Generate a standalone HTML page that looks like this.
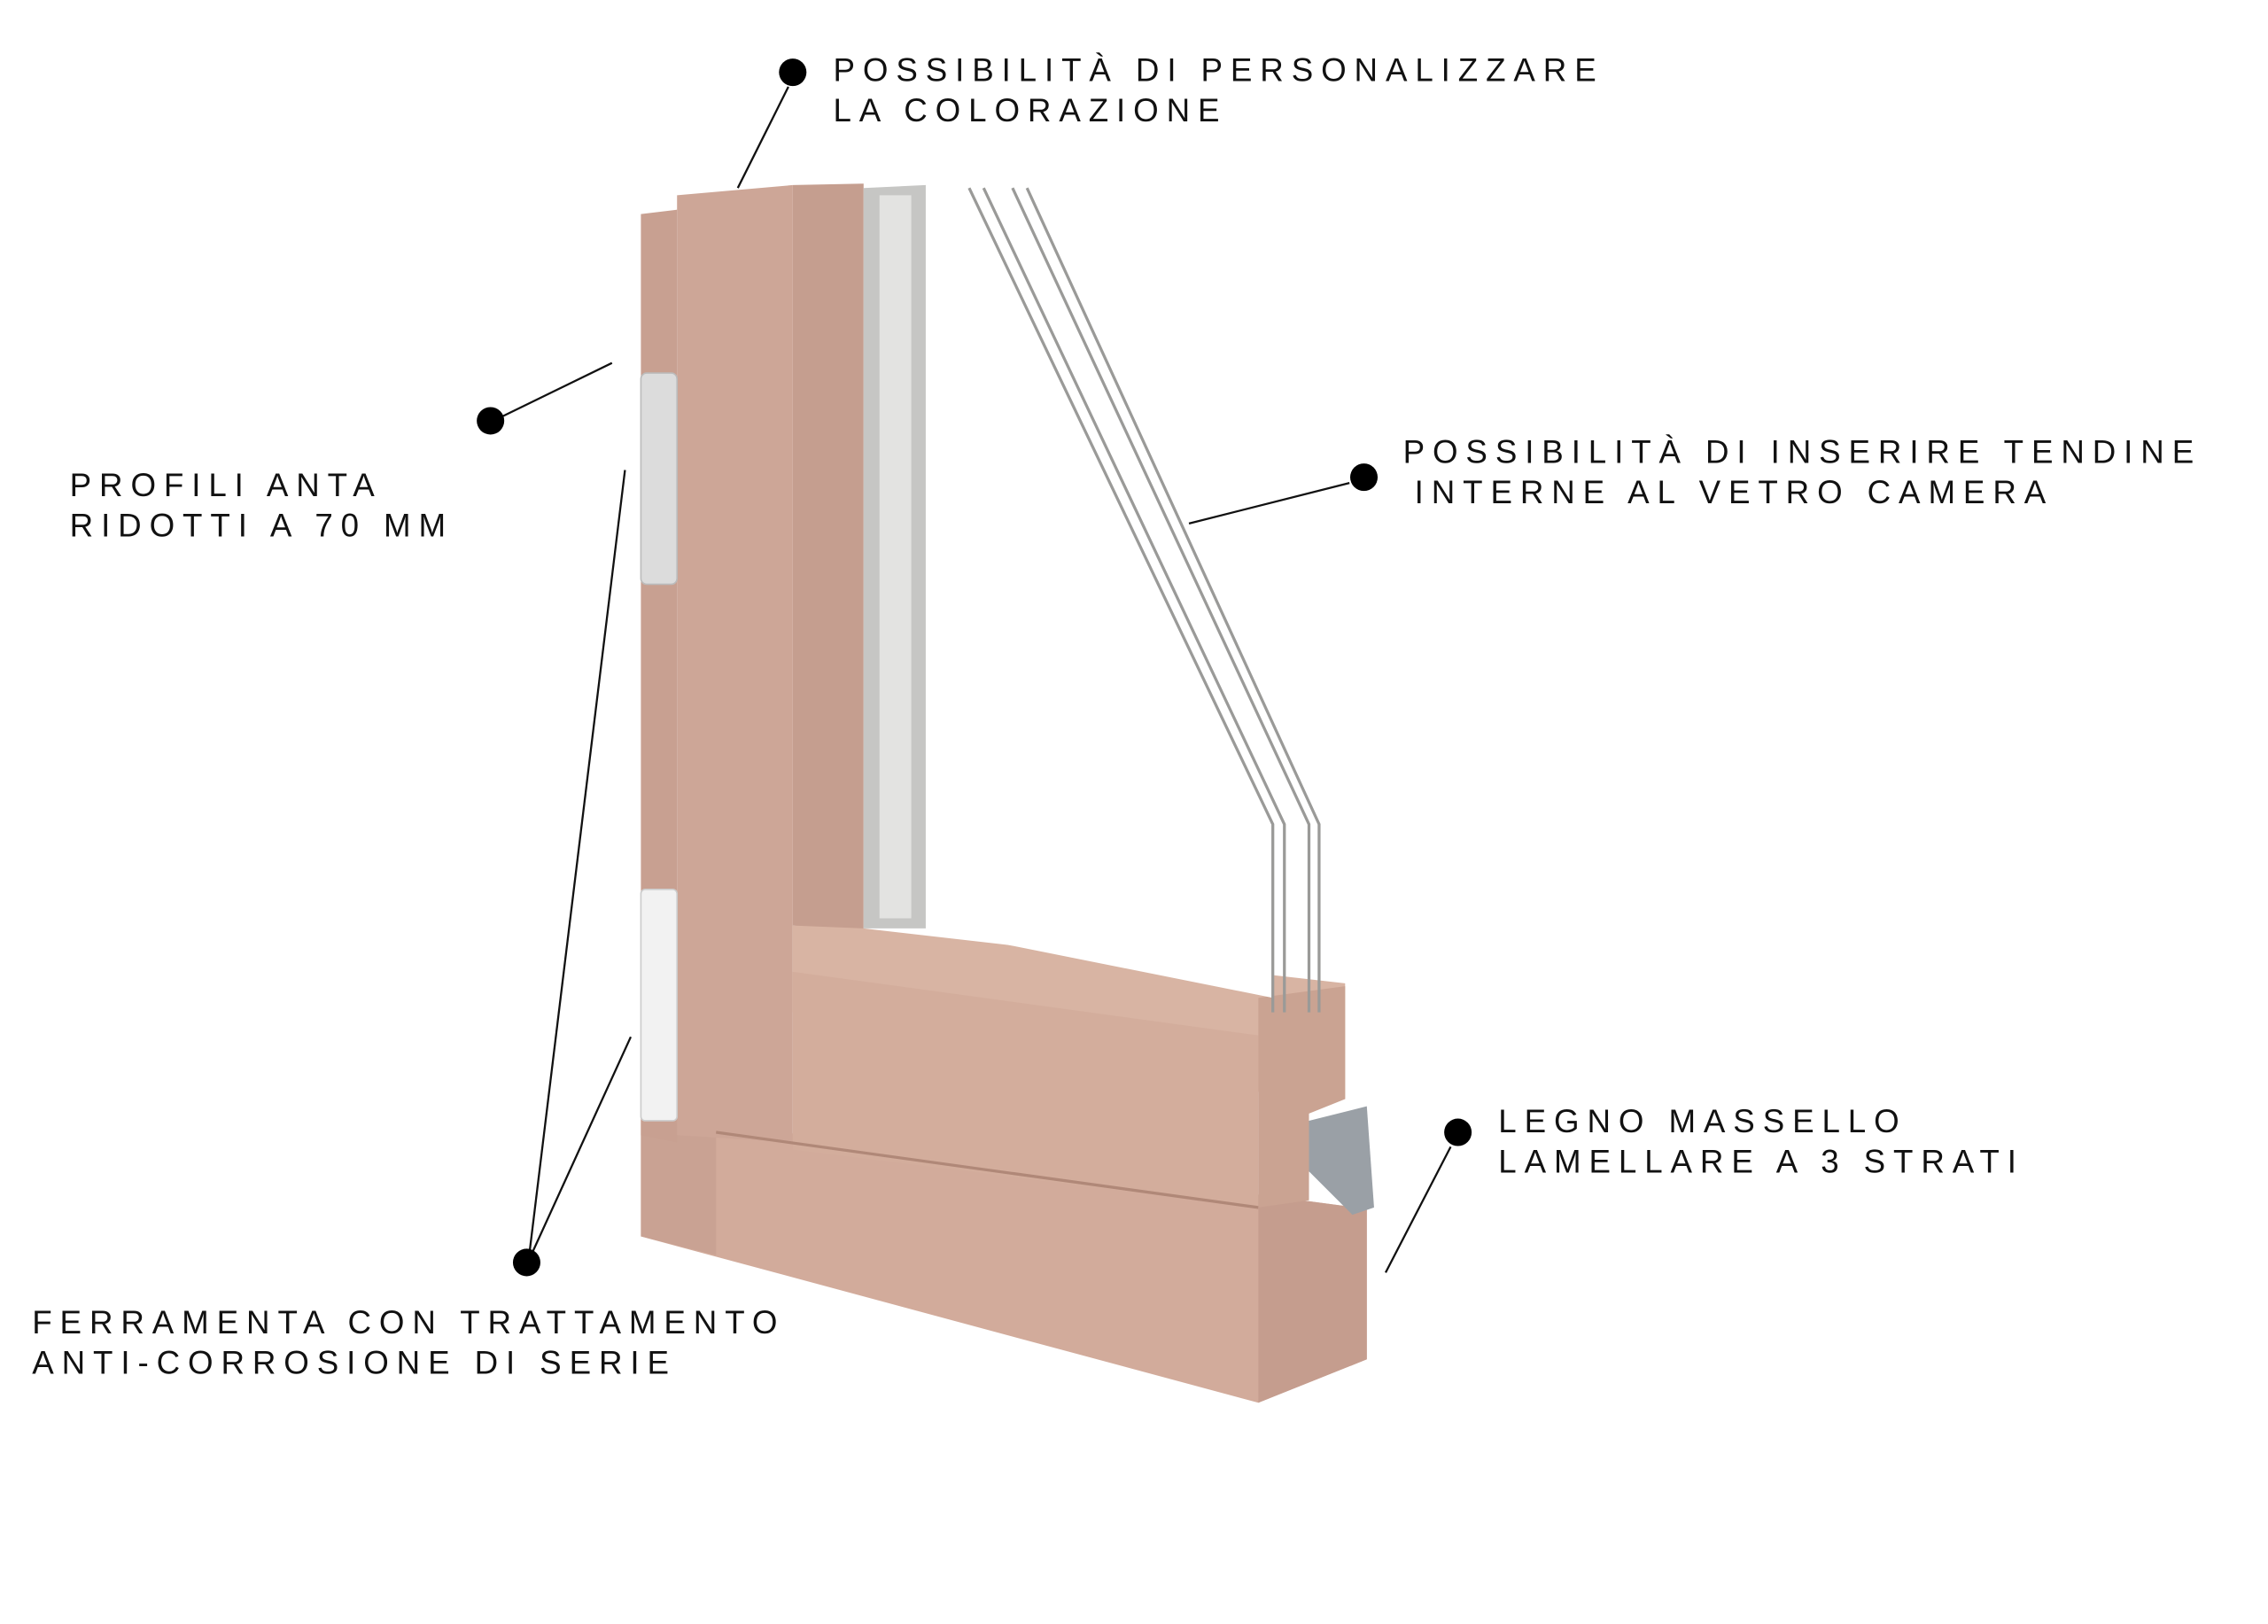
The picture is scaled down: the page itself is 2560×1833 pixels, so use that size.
<!DOCTYPE html>
<html><head><meta charset="utf-8"><style>
html,body{margin:0;padding:0;background:#fff}
svg{display:block}
text{font-family:"Liberation Sans",sans-serif;font-size:22.5px;letter-spacing:5.45px;fill:#111}
</style></head><body>
<svg width="2560" height="1833" viewBox="0 0 1568 1123" xmlns="http://www.w3.org/2000/svg">
<rect width="1568" height="1123" fill="#fff"/>
<polygon points="443,770 870,826 945,836 945,940 870,970 443,855" fill="#d2ab9b"/>
<polygon points="443,770 495,776 495,868 443,855" fill="#c9a293"/>
<polygon points="870,826 945,836 945,940 870,970" fill="#c59d8e"/>
<polygon points="443,148 468,145 468,790 443,785" fill="#c8a091"/>
<polygon points="468,135 548,128 548,790 468,785" fill="#cda697"/>
<polygon points="548,128 597,127 597,645 548,640 548,790" fill="#c59e8f"/>
<polygon points="548,640 597,642 930,680 930,760 870,755 548,700" fill="#d8b4a3"/>
<polygon points="548,672 870,716 870,835 548,795" fill="#d3ad9c"/>
<line x1="495" y1="783" x2="870" y2="835" stroke="#b08878" stroke-width="2"/>
<polygon points="870,690 930,682 930,760 905,770 905,830 870,835" fill="#caa392"/>
<path d="M905,775 L945,765 L950,835 L935,840 L905,810 Z" fill="#9aa0a6"/>
<polygon points="597,130 640,128 640,642 597,642" fill="#c6c6c4"/>
<polygon points="608,135 630,135 630,635 608,635" fill="#e3e3e1"/>
<polygon points="640,128 670,130 880,570 880,690 640,642" fill="#fff"/>
<g stroke="#9a9a98" stroke-width="2" fill="none">
<polyline points="670,130 880,570 880,700"/>
<polyline points="680,130 888,570 888,700"/>
<polyline points="700,130 905,570 905,700"/>
<polyline points="710,130 912,570 912,700"/>
</g>
<rect x="443" y="258" width="25" height="146" rx="4" fill="#dcdcdc" stroke="#bbb"/>
<rect x="443" y="615" width="25" height="160" rx="3" fill="#f2f2f2" stroke="#ccc"/>
<g stroke="#111" stroke-width="1.4">
<line x1="545" y1="60" x2="510" y2="130"/>
<line x1="345" y1="289" x2="423" y2="251"/>
<line x1="933" y1="334" x2="822" y2="362"/>
<line x1="1003" y1="793" x2="958" y2="880"/>
<line x1="366" y1="866" x2="432" y2="325"/>
<line x1="368" y1="866" x2="436" y2="717"/>
</g>
<g fill="#000">
<circle cx="548" cy="50" r="9.5"/>
<circle cx="339" cy="291" r="9.5"/>
<circle cx="943" cy="330" r="9.5"/>
<circle cx="1008" cy="783" r="9.5"/>
<circle cx="364" cy="873" r="9.5"/>
</g>
<text x="576" y="56">POSSIBILITÀ DI PERSONALIZZARE</text>
<text x="576" y="84">LA COLORAZIONE</text>
<text x="48" y="343">PROFILI ANTA</text>
<text x="48" y="371">RIDOTTI A 70 MM</text>
<text x="970" y="320">POSSIBILITÀ DI INSERIRE TENDINE</text>
<text x="978" y="348">INTERNE AL VETRO CAMERA</text>
<text x="1036" y="783">LEGNO MASSELLO</text>
<text x="1036" y="811">LAMELLARE A 3 STRATI</text>
<text x="22" y="922">FERRAMENTA CON TRATTAMENTO</text>
<text x="22" y="950">ANTI-CORROSIONE DI SERIE</text>
</svg>
</body></html>
